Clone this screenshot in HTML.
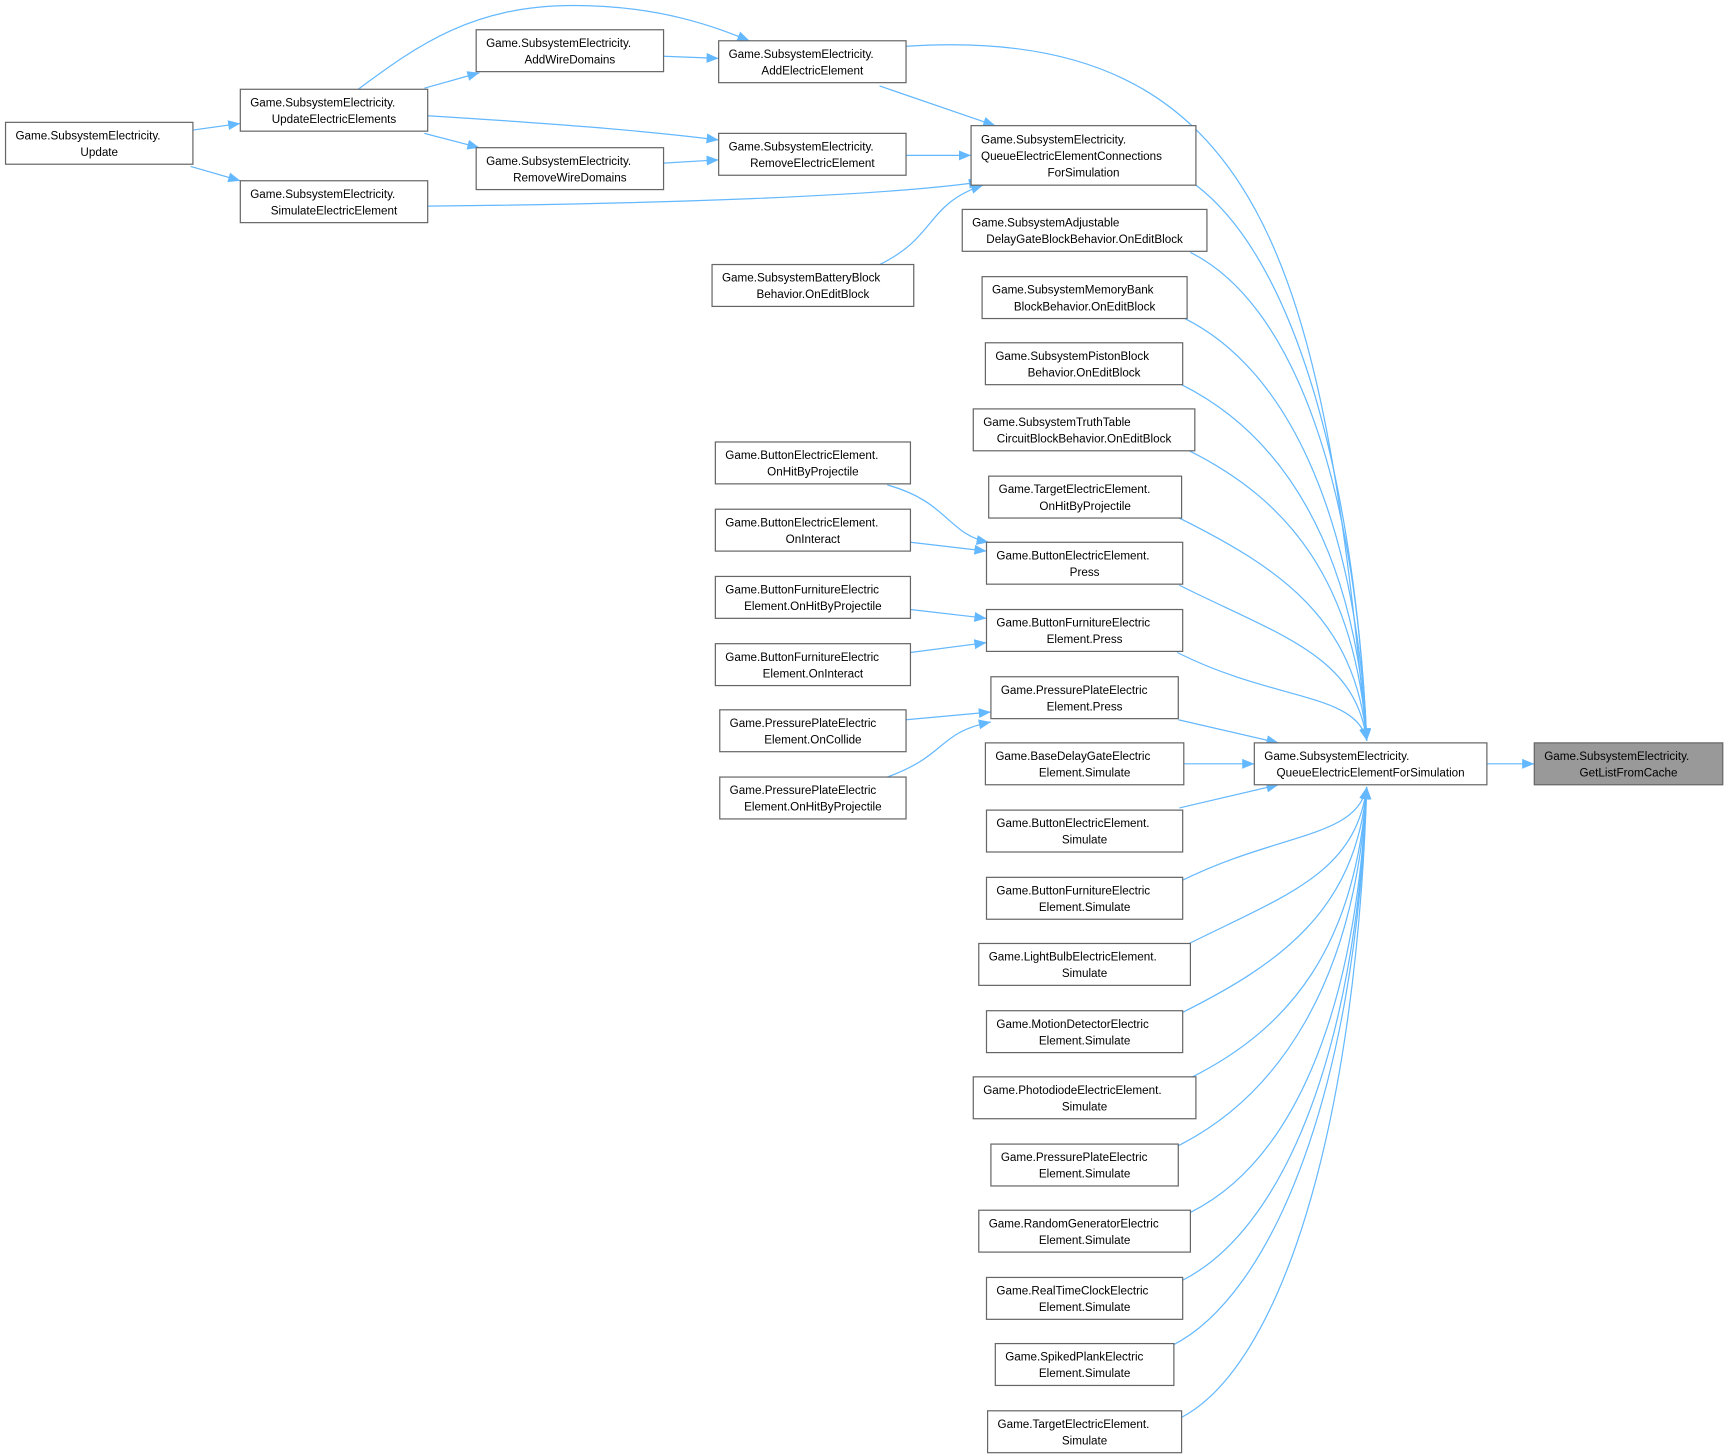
<!DOCTYPE html>
<html><head><meta charset="utf-8"><style>
html,body{margin:0;padding:0;background:#fff;}
svg{display:block;}
text{font-family:"Liberation Sans",Arial,sans-serif;font-size:10.6px;fill:#000;}
</style></head><body>
<svg id="g" width="1725" height="1456" viewBox="0 0 1565 1321" xmlns="http://www.w3.org/2000/svg">
<defs><marker id="a" markerUnits="userSpaceOnUse" markerWidth="12" markerHeight="10" refX="11" refY="4.5" orient="auto"><path d="M0,0 L11,4.5 L0,9 Z" fill="#63b8ff"/></marker></defs>
<g id="e" fill="none" stroke="#63b8ff" stroke-width="1.1"></g>
<g id="n"></g>
</svg>
<script>
var N=[
[5,111,170,["Game.SubsystemElectricity.","Update"]],
[218,81,170,["Game.SubsystemElectricity.","UpdateElectricElements"]],
[218,164,170,["Game.SubsystemElectricity.","SimulateElectricElement"]],
[432,27,170,["Game.SubsystemElectricity.","AddWireDomains"]],
[432,134,170,["Game.SubsystemElectricity.","RemoveWireDomains"]],
[652,37,170,["Game.SubsystemElectricity.","AddElectricElement"]],
[652,121,170,["Game.SubsystemElectricity.","RemoveElectricElement"]],
[881,114,204,["Game.SubsystemElectricity.","QueueElectricElementConnections","ForSimulation"],54],
[646,240,183,["Game.SubsystemBatteryBlock","Behavior.OnEditBlock"]],
[873,190,222,["Game.SubsystemAdjustable","DelayGateBlockBehavior.OnEditBlock"]],
[891,251,186,["Game.SubsystemMemoryBank","BlockBehavior.OnEditBlock"]],
[894,311,179,["Game.SubsystemPistonBlock","Behavior.OnEditBlock"]],
[883,371,201,["Game.SubsystemTruthTable","CircuitBlockBehavior.OnEditBlock"]],
[897,432,175,["Game.TargetElectricElement.","OnHitByProjectile"]],
[895,492,178,["Game.ButtonElectricElement.","Press"]],
[895,553,178,["Game.ButtonFurnitureElectric","Element.Press"]],
[899,614,170,["Game.PressurePlateElectric","Element.Press"]],
[894,674,180,["Game.BaseDelayGateElectric","Element.Simulate"]],
[895,735,178,["Game.ButtonElectricElement.","Simulate"]],
[895,796,178,["Game.ButtonFurnitureElectric","Element.Simulate"]],
[888,856,192,["Game.LightBulbElectricElement.","Simulate"]],
[895,917,178,["Game.MotionDetectorElectric","Element.Simulate"]],
[883,977,202,["Game.PhotodiodeElectricElement.","Simulate"]],
[899,1038,170,["Game.PressurePlateElectric","Element.Simulate"]],
[888,1098,192,["Game.RandomGeneratorElectric","Element.Simulate"]],
[895,1159,178,["Game.RealTimeClockElectric","Element.Simulate"]],
[903,1219,162,["Game.SpikedPlankElectric","Element.Simulate"]],
[896,1280,176,["Game.TargetElectricElement.","Simulate"]],
[649,401,177,["Game.ButtonElectricElement.","OnHitByProjectile"]],
[649,462,177,["Game.ButtonElectricElement.","OnInteract"]],
[649,523,177,["Game.ButtonFurnitureElectric","Element.OnHitByProjectile"]],
[649,584,177,["Game.ButtonFurnitureElectric","Element.OnInteract"]],
[653,644,169,["Game.PressurePlateElectric","Element.OnCollide"]],
[653,705,169,["Game.PressurePlateElectric","Element.OnHitByProjectile"]],
[1138,674,211,["Game.SubsystemElectricity.","QueueElectricElementForSimulation"]],
[1392,674,171,["Game.SubsystemElectricity.","GetListFromCache"],38,"#999"]
];
var ns="http://www.w3.org/2000/svg",s="";
N.forEach(function(b){
 var h=b[4]||38,f=b[5]||"#fff",L=b[3];
 s+='<rect x="'+b[0]+'" y="'+b[1]+'" width="'+b[2]+'" height="'+h+'" fill="'+f+'" stroke="#666" stroke-width="1.1"/>';
 var y0=b[1]+h/2-(L.length-1)*7.5+4;
 L.forEach(function(t,i){
  var last=i==L.length-1;
  if(last) s+='<text x="'+(b[0]+b[2]/2)+'" y="'+(y0+i*15)+'" text-anchor="middle">'+t+'</text>';
  else s+='<text x="'+(b[0]+9)+'" y="'+(y0+i*15)+'">'+t+'</text>';
 });
});
document.getElementById("n").innerHTML=s;
var E=[
"M1349,693 L1392,693",
"M175,118 L218,112","M173,151 L218,164",
"M385,80 L435,66","M385,121 L435,134","M388,105 C500,112 580,118 652,127",
"M325,81 C380,40 430,5 520,5 C600,5 650,25 680,37",
"M602,51 L652,53","M602,148 L652,145",
"M798,78 L903,114","M822,141 L881,141","M388,187 C600,185 800,178 890,165",
"M798,240 C850,215 840,185 892,168",
"M805,440 C860,455 860,485 897,492","M826,492 L895,500",
"M826,553 L895,561","M826,592 L895,583",
"M822,653 L899,646","M805,705 C860,685 850,665 899,655",
"M822,42 C1150,20 1200,250 1240,672",
"M1085,168 C1180,240 1230,450 1240,672",
"M1073,693 L1138,693",
"M1069,653 L1160,674"
];
var up=[[1080,229],[1075,289],[1072,349],[1079,409],[1070,470],[1070,531],[1068,592]];
up.forEach(function(p){var sx=p[0],sy=p[1];E.push("M"+sx+","+sy+" C"+(sx+90)+","+(sy+45)+" 1230,"+(sy+(672-sy)*0.45)+" 1240,672");});
var dn=[[1070,756],[1070,800],[1077,857],[1070,920],[1080,978],[1068,1040],[1080,1100],[1072,1162],[1063,1221],[1070,1287]];
dn.forEach(function(p,i){var sx=p[0],sy=p[1];if(i==0){E.push("M1070,733 L1160,712");return;}E.push("M"+sx+","+sy+" C"+(sx+90)+","+(sy-45)+" 1230,"+(sy-(sy-714)*0.45)+" 1240,714");});
var es="";E.forEach(function(d){es+='<path d="'+d+'" marker-end="url(#a)"/>';});
document.getElementById("e").innerHTML=es;
</script>
</body></html>
